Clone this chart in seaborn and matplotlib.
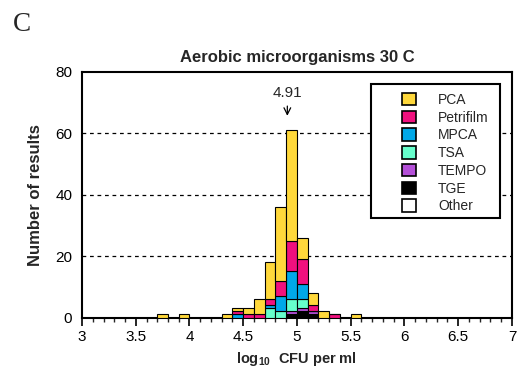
import numpy as np
import pandas as pd
import matplotlib
matplotlib.use("Agg")
import matplotlib.pyplot as plt
import seaborn as sns
from matplotlib.patches import Patch, Rectangle
from matplotlib.ticker import MultipleLocator

sns.set_theme(style="white")
plt.rcParams['font.family'] = ['Liberation Sans', 'DejaVu Sans']
plt.rcParams['mathtext.fontset'] = 'custom'
plt.rcParams['mathtext.rm'] = 'Liberation Sans'
plt.rcParams['mathtext.bf'] = 'Liberation Sans:bold'

# ---- data (bin centres of 0.1-wide bins, counts per method) ----
bin_centers = [3.75, 3.95, 4.35, 4.45, 4.55, 4.65, 4.75, 4.85, 4.95, 5.05, 5.15, 5.25, 5.35, 5.55]
PCA       = [1, 1, 1, 1, 2, 5, 12, 24, 36, 7, 4, 2, 0, 1]
Petrifilm = [0, 0, 0, 1, 1, 1, 2, 5, 10, 8, 2, 0, 1, 0]
MPCA      = [0, 0, 0, 1, 0, 0, 1, 5, 9, 5, 0, 0, 0, 0]
TSA       = [0, 0, 0, 0, 0, 0, 3, 2, 4, 3, 0, 0, 0, 0]
TEMPO     = [0, 0, 0, 0, 0, 0, 0, 0, 1, 1, 1, 0, 0, 0]
TGE       = [0, 0, 0, 0, 0, 0, 0, 0, 1, 2, 1, 0, 0, 0]
Other     = [0, 0, 0, 0, 0, 0, 0, 0, 0, 0, 0, 0, 0, 0]

methods = ["PCA", "Petrifilm", "MPCA", "TSA", "TEMPO", "TGE", "Other"]
method_counts = [PCA, Petrifilm, MPCA, TSA, TEMPO, TGE, Other]
method_colors = ["#FFD83B", "#F0107E", "#00A8E8", "#66FFCC", "#B44FD8", "#000000", "#FFFFFF"]

x_ticks = [3, 3.5, 4, 4.5, 5, 5.5, 6, 6.5, 7]
x_tick_labels = ["3", "3.5", "4", "4.5", "5", "5.5", "6", "6.5", "7"]
y_ticks = [0, 20, 40, 60, 80]
median_value = 4.91

rows = []
for m, counts in zip(methods, method_counts):
    for c, n in zip(bin_centers, counts):
        rows.append({"value": c, "count": float(n), "method": m})
df = pd.DataFrame(rows)
palette = dict(zip(methods, method_colors))

fig = plt.figure(figsize=(5.19, 3.72), dpi=100)
ax = fig.add_axes([0.158, 0.1465, 0.8285, 0.66])

for yv in [20, 40, 60]:
    ax.axhline(yv, color="black", lw=0.9, ls=(0, (3, 3)), zorder=0)

sns.histplot(data=df, x="value", weights="count", hue="method", hue_order=methods,
             multiple="stack", binwidth=0.1, binrange=(3, 7), palette=palette, alpha=1,
             edgecolor="black", linewidth=0.8, legend=False, ax=ax, zorder=3)

ax.set_xlim(3, 7)
ax.set_ylim(0, 80)
ax.set_xticks(x_ticks)
ax.set_xticklabels(x_tick_labels)
ax.xaxis.set_minor_locator(MultipleLocator(0.1))
ax.set_yticks(y_ticks)
ax.tick_params(axis="x", which="major", direction="out", length=6, width=1.2, pad=3,
               labelsize=11, colors="black", bottom=True)
ax.tick_params(axis="x", which="minor", direction="out", length=3, width=1, bottom=True)
ax.tick_params(axis="y", which="major", length=0, pad=7, labelsize=11, colors="black")
for s in ax.spines.values():
    s.set_visible(True)
    s.set_color("black")
    s.set_linewidth(1.5)

ax.set_title("Aerobic microorganisms 30 C", fontsize=12, fontweight="bold", pad=7)
ax.set_ylabel("Number of results", fontsize=12, fontweight="bold", labelpad=9)
ax.set_xlabel(r"log$_{\mathbf{10}}$  CFU per ml", fontsize=10.5, fontweight="bold", labelpad=4)

ax.annotate("", xy=(median_value, 64.8), xytext=(median_value, 69.8),
            arrowprops=dict(arrowstyle="->", color="black", lw=0.9), zorder=6)
ax.text(median_value, 73.0, f"{median_value:.2f}", ha="center", va="center", fontsize=11, zorder=6)

# legend box
ax.add_patch(Rectangle((0.672, 0.405), 0.300, 0.548, transform=ax.transAxes,
                       facecolor="white", edgecolor="black", lw=1.5, zorder=5))
handles = [Patch(facecolor=c, edgecolor="black", linewidth=1.2, label=m)
           for m, c in zip(methods, method_colors)]
leg = ax.legend(handles=handles, loc="upper left", bbox_to_anchor=(0.744, 0.915),
                frameon=False, fontsize=10, handlelength=1.0, handleheight=1.0,
                handletextpad=1.6, labelspacing=0.27, borderpad=0, borderaxespad=0)
leg.set_zorder(7)

fig.text(0.025, 0.935, "C", fontsize=19.5, family="Liberation Serif", ha="left", va="center")

fig.savefig("out.png", dpi=100)
